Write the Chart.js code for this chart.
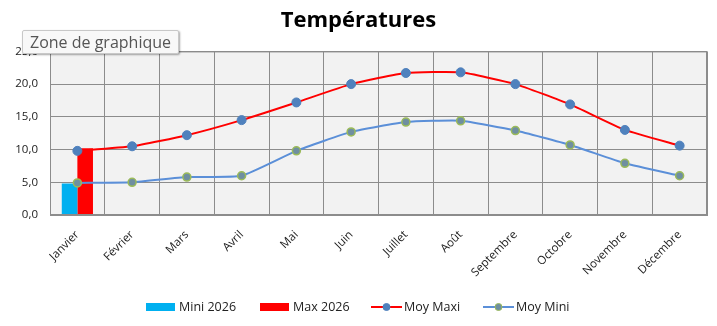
<!DOCTYPE html>
<html>
<head>
<meta charset="utf-8">
<script src="https://cdn.jsdelivr.net/npm/chart.js@4"></script>
<style>
  html, body { margin: 0; padding: 0; background: #ffffff; }
  #wrap { position: relative; width: 717px; height: 326px; }
  #tip {
    position: absolute; left: 22px; top: 30px; height: 22px;
    padding: 0 7px; line-height: 22px;
    font-family: "Open Sans", sans-serif; font-size: 16px; color: #555;
    background: #f8f8f8; border: 1px solid #c8c8c8; border-radius: 2px;
    box-shadow: 1px 1px 2px rgba(0,0,0,0.35);
  }
</style>
</head>
<body>
<div id="wrap">
  <canvas id="chart" width="717" height="326"></canvas>
  <div id="tip">Zone de graphique</div>
</div>
<script>
// =========================
// Data
// =========================
const months = ["Janvier", "Février", "Mars", "Avril", "Mai", "Juin",
                "Juillet", "Août", "Septembre", "Octobre", "Novembre", "Décembre"];

const mini2026 = [4.8, null, null, null, null, null, null, null, null, null, null, null];
const max2026  = [10.2, null, null, null, null, null, null, null, null, null, null, null];

const moyMaxi = [9.8, 10.5, 12.2, 14.5, 17.2, 20.0, 21.7, 21.8, 20.0, 16.9, 13.0, 10.6];
const moyMini = [4.9, 5.0, 5.8, 6.0, 9.8, 12.7, 14.2, 14.4, 12.9, 10.7, 7.9, 6.0];

const yTicks = [0, 5, 10, 15, 20, 25];

const axisFont = { family: "'Open Sans', sans-serif", size: 11.5 };

// =========================
// Plugins
// =========================
const plotBackground = {
    id: "plotBackground",
    beforeDraw(chart) {
        const a = chart.chartArea;
        const ctx = chart.ctx;
        ctx.save();
        ctx.fillStyle = "#f2f2f2";
        ctx.fillRect(a.left, a.top, a.right - a.left, a.bottom - a.top);
        ctx.restore();
    },
    afterDatasetsDraw(chart) {
        const a = chart.chartArea;
        const ctx = chart.ctx;
        ctx.save();
        ctx.strokeStyle = "#8c8c8c";
        ctx.lineWidth = 1;
        ctx.strokeRect(a.left + 0.5, a.top + 0.5, a.right - a.left - 1, a.bottom - a.top - 1);
        ctx.restore();
    }
};

// legend drawn at the bottom, Excel style
const bottomLegend = {
    id: "bottomLegend",
    afterDraw(chart) {
        const ctx = chart.ctx;
        const y = 307;
        const xs = [146, 260, 371, 483];
        ctx.save();
        ctx.font = "12.5px 'Open Sans', sans-serif";
        ctx.textBaseline = "middle";
        chart.data.datasets.forEach((ds, i) => {
            const x = xs[i];
            if (ds.type === "bar") {
                ctx.fillStyle = ds.backgroundColor;
                ctx.fillRect(x, y - 4, 29, 8);
                ctx.fillStyle = "#222";
                ctx.fillText(ds.label, x + 33, y);
            } else {
                ctx.strokeStyle = ds.borderColor;
                ctx.lineWidth = 2;
                ctx.beginPath();
                ctx.moveTo(x, y);
                ctx.lineTo(x + 31, y);
                ctx.stroke();
                ctx.beginPath();
                ctx.arc(x + 15.5, y, 3.5, 0, Math.PI * 2);
                ctx.fillStyle = ds.pointBackgroundColor;
                ctx.fill();
                ctx.lineWidth = 1;
                ctx.strokeStyle = ds.pointBorderColor;
                ctx.stroke();
                ctx.fillStyle = "#222";
                ctx.fillText(ds.label, x + 33, y);
            }
        });
        ctx.restore();
    }
};

// =========================
// Chart
// =========================
new Chart(document.getElementById("chart"), {
    type: "bar",
    data: {
        labels: months,
        datasets: [
            {
                type: "bar",
                label: "Mini 2026",
                data: mini2026,
                backgroundColor: "#00b0f0",
                categoryPercentage: 0.57,
                barPercentage: 1,
                order: 2
            },
            {
                type: "bar",
                label: "Max 2026",
                data: max2026,
                backgroundColor: "#ff0000",
                categoryPercentage: 0.57,
                barPercentage: 1,
                order: 2
            },
            {
                type: "line",
                label: "Moy Maxi",
                data: moyMaxi,
                borderColor: "#ff0000",
                borderWidth: 2,
                pointRadius: 4.5,
                pointBackgroundColor: "#4f81bd",
                pointBorderColor: "#4f81bd",
                pointBorderWidth: 1,
                tension: 0.15,
                order: 1
            },
            {
                type: "line",
                label: "Moy Mini",
                data: moyMini,
                borderColor: "#5b8fd8",
                borderWidth: 2,
                pointRadius: 4,
                pointBackgroundColor: "#6f8fa0",
                pointBorderColor: "#9bbb59",
                pointBorderWidth: 1.5,
                tension: 0.15,
                order: 1
            }
        ]
    },
    options: {
        responsive: false,
        animation: false,
        layout: { padding: { left: 10, right: 10, top: 0, bottom: 0 } },
        plugins: {
            legend: { display: false },
            tooltip: { enabled: false },
            title: {
                display: true,
                text: "Températures",
                color: "#000",
                font: { family: "'Open Sans', sans-serif", size: 22, weight: "bold" },
                padding: { top: 8, bottom: 17 }
            }
        },
        scales: {
            x: {
                offset: true,
                grid: { offset: true, color: "#8c8c8c", drawTicks: false },
                border: { color: "#8c8c8c" },
                ticks: {
                    color: "#222",
                    font: axisFont,
                    minRotation: 45,
                    maxRotation: 45,
                    padding: 13
                },
                afterFit(s) { s.height = 111; }
            },
            y: {
                min: 0,
                max: 25,
                afterBuildTicks(s) { s.ticks = yTicks.map(v => ({ value: v })); },
                grid: { color: "#8c8c8c", drawTicks: false },
                border: { color: "#8c8c8c" },
                ticks: {
                    color: "#222",
                    font: axisFont,
                    padding: 12,
                    callback: v => v.toFixed(1).replace(".", ",")
                },
                afterFit(s) { s.width = 40; }
            }
        }
    },
    plugins: [plotBackground, bottomLegend]
});
</script>
</body>
</html>
